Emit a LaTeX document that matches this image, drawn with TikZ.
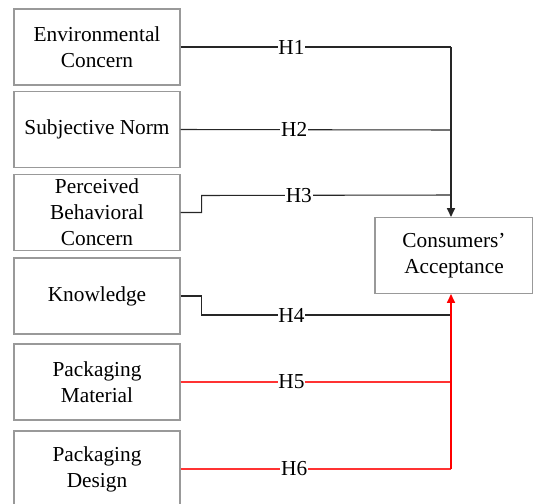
\documentclass[tikz,border=0pt]{standalone}
\usepackage{fontspec}
\setmainfont{Liberation Serif}
\usepackage{xcolor}
\usepackage{tikz}
\usetikzlibrary{arrows.meta}

\begin{document}
\begin{tikzpicture}[x=0.75pt, y=-0.75pt,
  factor/.style={draw=gray!80, line width=0.9pt, fill=white, align=center,
    minimum width=124.5pt, minimum height=57pt, inner sep=1pt,
    font=\fontsize{16}{19.5}\selectfont},
  link/.style={black!85, line width=0.8pt},
  redlink/.style={red!80, line width=0.8pt},
  hyp/.style={fill=white, text=black, inner sep=0.5pt, font=\fontsize{16}{19.5}\selectfont}]
  \useasboundingbox (0,0) rectangle (533,504);
  % Factors on the left
  \node[factor] (env) at (97,47) {Environmental\\Concern};
  \node[factor] (norm) at (97,129.5) {Subjective Norm};
  \node[factor] (pbc) at (97,212.5) {Perceived\\Behavioral\\Concern};
  \node[factor] (know) at (97,296) {Knowledge};
  \node[factor] (mat) at (97,382) {Packaging\\Material};
  \node[factor] (des) at (97,469) {Packaging\\Design};
  % Outcome box
  \node[factor, minimum width=118.5pt] (acc) at (454,255.5) {Consumers'\\Acceptance};
  % Junction points on the vertical lines
  \coordinate (j1) at (451,47);
  \coordinate (j2) at (451,130);
  \coordinate (j3) at (451,195);
  \coordinate (j4) at (451,315);
  \coordinate (j5) at (451,382);
  \coordinate (j6) at (451,469);
  % Black hypotheses H1--H4
  \draw[link] (env.east) -- node[hyp, pos=0.41] {H1} (j1);
  \draw[link] (norm.east) -- node[hyp, pos=0.42] {H2} (j2);
  \draw[link] (pbc.east) -- ++(21,0) -- ++(0,-17) -- node[hyp, pos=0.39] {H3} (j3);
  \draw[link] (know.east) -- ++(21,0) -- ++(0,19) -- node[hyp, pos=0.36] {H4} (j4);
  \draw[link, -{Triangle[length=6.5pt, width=6pt]}] (j1) -- (j1 |- acc.north);
  % Red hypotheses H5 and H6
  \draw[redlink] (mat.east) -- node[hyp, pos=0.41] {H5} (j5);
  \draw[redlink] (des.east) -- node[hyp, pos=0.42] {H6} (j6);
  \draw[redlink, draw=red, -{Triangle[length=6.5pt, width=6pt]}] (j6) -- (j6 |- acc.south);
\end{tikzpicture}
\end{document}
